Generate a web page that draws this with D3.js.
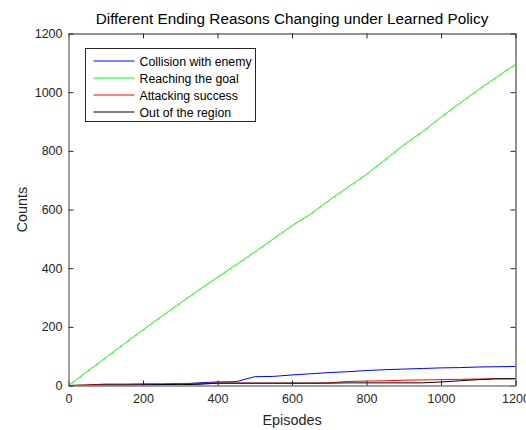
<!DOCTYPE html>
<html>
<head>
<meta charset="utf-8">
<script src="https://cdn.jsdelivr.net/npm/d3@7"></script>
<style>
  html, body { margin: 0; padding: 0; background: #fff; }
  svg { display: block; font-family: "Liberation Sans", Arial, Helvetica, sans-serif; }
</style>
</head>
<body>
<svg id="chart" width="526" height="430"></svg>
<script>
// Episode sample points shared by every series
const episodes = [0, 50, 100, 150, 200, 250, 300, 350, 400, 450, 500, 550, 600,
                  650, 700, 750, 800, 850, 900, 950, 1000, 1050, 1100, 1150, 1200];

// Cumulative counts of each ending reason
const collisionWithEnemy = [0, 0, 1, 1, 2, 3, 5, 9, 12, 13, 30, 31, 36,
                            40, 44, 47, 51, 54, 56, 58, 60, 61, 63, 64, 65];
const reachingTheGoal    = [0, 48, 95, 143, 190, 236, 281, 326, 369, 412, 455, 500, 545,
                            585, 632, 676, 720, 770, 820, 865, 915, 962, 1008, 1052, 1095];
const attackingSuccess   = [0, 2, 5, 5, 6, 6, 7, 7, 8, 8, 8, 8, 8,
                            8, 9, 14, 15, 16, 18, 19, 20, 21, 22, 23, 23];
const outOfTheRegion     = [0, 1, 2, 2, 2, 3, 3, 4, 8, 8, 8, 8, 8,
                            8, 8, 9, 9, 9, 9, 9, 12, 16, 20, 23, 23];

const seriesNames  = ["Collision with enemy", "Reaching the goal", "Attacking success", "Out of the region"];
const seriesColors = ["#0000ff", "#00ff00", "#ff0000", "#000000"];
const seriesValues = [collisionWithEnemy, reachingTheGoal, attackingSuccess, outOfTheRegion];

const xTicks = [0, 200, 400, 600, 800, 1000, 1200];
const yTicks = [0, 200, 400, 600, 800, 1000, 1200];

const titleText = "Different Ending Reasons Changing under Learned Policy";
const xLabel = "Episodes";
const yLabel = "Counts";

const svg = d3.select("#chart");
const plot = { left: 68.5, right: 515.5, top: 33.5, bottom: 385.5 };

const x = d3.scaleLinear().domain([0, 1200]).range([plot.left, plot.right]);
const y = d3.scaleLinear().domain([0, 1200]).range([plot.bottom, plot.top]);

const axisColor = "#262626";
const tickLen = 5;
const fmt = d3.format("d");

// Data lines
const line = d3.line()
  .x((d, i) => x(episodes[i]))
  .y(d => y(d));

const g = svg.append("g");
g.append("defs").append("clipPath").attr("id", "plotClip")
  .append("rect")
  .attr("x", plot.left).attr("y", plot.top)
  .attr("width", plot.right - plot.left).attr("height", plot.bottom - plot.top);

const lines = g.append("g").attr("clip-path", "url(#plotClip)");
seriesValues.forEach((vals, k) => {
  lines.append("path")
    .datum(vals)
    .attr("d", line)
    .attr("fill", "none")
    .attr("stroke", seriesColors[k])
    .attr("stroke-width", 1);
});

// Axes: ticks pointing inward on all four sides
const bottomAxis = d3.axisBottom(x).tickValues(xTicks).tickFormat(fmt).tickSizeInner(-tickLen).tickSizeOuter(0).tickPadding(9);
const topAxis = d3.axisTop(x).tickValues(xTicks).tickSizeInner(-tickLen).tickSizeOuter(0).tickFormat("");
const leftAxis = d3.axisLeft(y).tickValues(yTicks).tickFormat(fmt).tickSizeInner(-tickLen).tickSizeOuter(0).tickPadding(6);
const rightAxis = d3.axisRight(y).tickValues(yTicks).tickSizeInner(-tickLen).tickSizeOuter(0).tickFormat("");

function styleAxis(sel, domainColor, domainWidth) {
  sel.selectAll(".domain").attr("stroke", domainColor).attr("stroke-width", domainWidth);
  sel.selectAll(".tick line").attr("stroke", axisColor).attr("stroke-width", 1);
  sel.selectAll(".tick text")
    .attr("fill", "#262626")
    .style("font-size", "12.5px")
    .style("font-family", "'Liberation Sans', Arial, Helvetica, sans-serif");
}

svg.append("g").attr("transform", `translate(0,${plot.top})`).call(topAxis).call(s => styleAxis(s, axisColor, 1));
svg.append("g").attr("transform", `translate(${plot.right},0)`).call(rightAxis).call(s => styleAxis(s, axisColor, 1));
svg.append("g").attr("transform", `translate(0,${plot.bottom})`).call(bottomAxis).call(s => styleAxis(s, "#808080", 1.5));
svg.append("g").attr("transform", `translate(${plot.left},0)`).call(leftAxis).call(s => styleAxis(s, "#808080", 1.5));

// Title and axis labels
svg.append("text")
  .attr("x", (plot.left + plot.right) / 2)
  .attr("y", 24)
  .attr("text-anchor", "middle")
  .attr("fill", "#000")
  .style("font-size", "15.3px")
  .text(titleText);

svg.append("text")
  .attr("x", (plot.left + plot.right) / 2)
  .attr("y", 425)
  .attr("text-anchor", "middle")
  .attr("fill", "#262626")
  .style("font-size", "14.4px")
  .text(xLabel);

svg.append("text")
  .attr("transform", `translate(27,${(plot.top + plot.bottom) / 2}) rotate(-90)`)
  .attr("text-anchor", "middle")
  .attr("fill", "#262626")
  .style("font-size", "14.4px")
  .text(yLabel);

// Legend
const legend = svg.append("g").attr("transform", "translate(85.5,48.5)");
legend.append("rect")
  .attr("width", 170).attr("height", 73)
  .attr("fill", "#fff")
  .attr("stroke", "#262626")
  .attr("stroke-width", 1);

seriesNames.forEach((name, k) => {
  const ry = 12.5 + k * 17;
  legend.append("line")
    .attr("x1", 8).attr("x2", 49)
    .attr("y1", ry).attr("y2", ry)
    .attr("stroke", seriesColors[k])
    .attr("stroke-width", 1);
  legend.append("text")
    .attr("x", 54).attr("y", ry + 4.5)
    .attr("fill", "#000")
    .style("font-size", "12.3px")
    .text(name);
});
</script>
</body>
</html>
